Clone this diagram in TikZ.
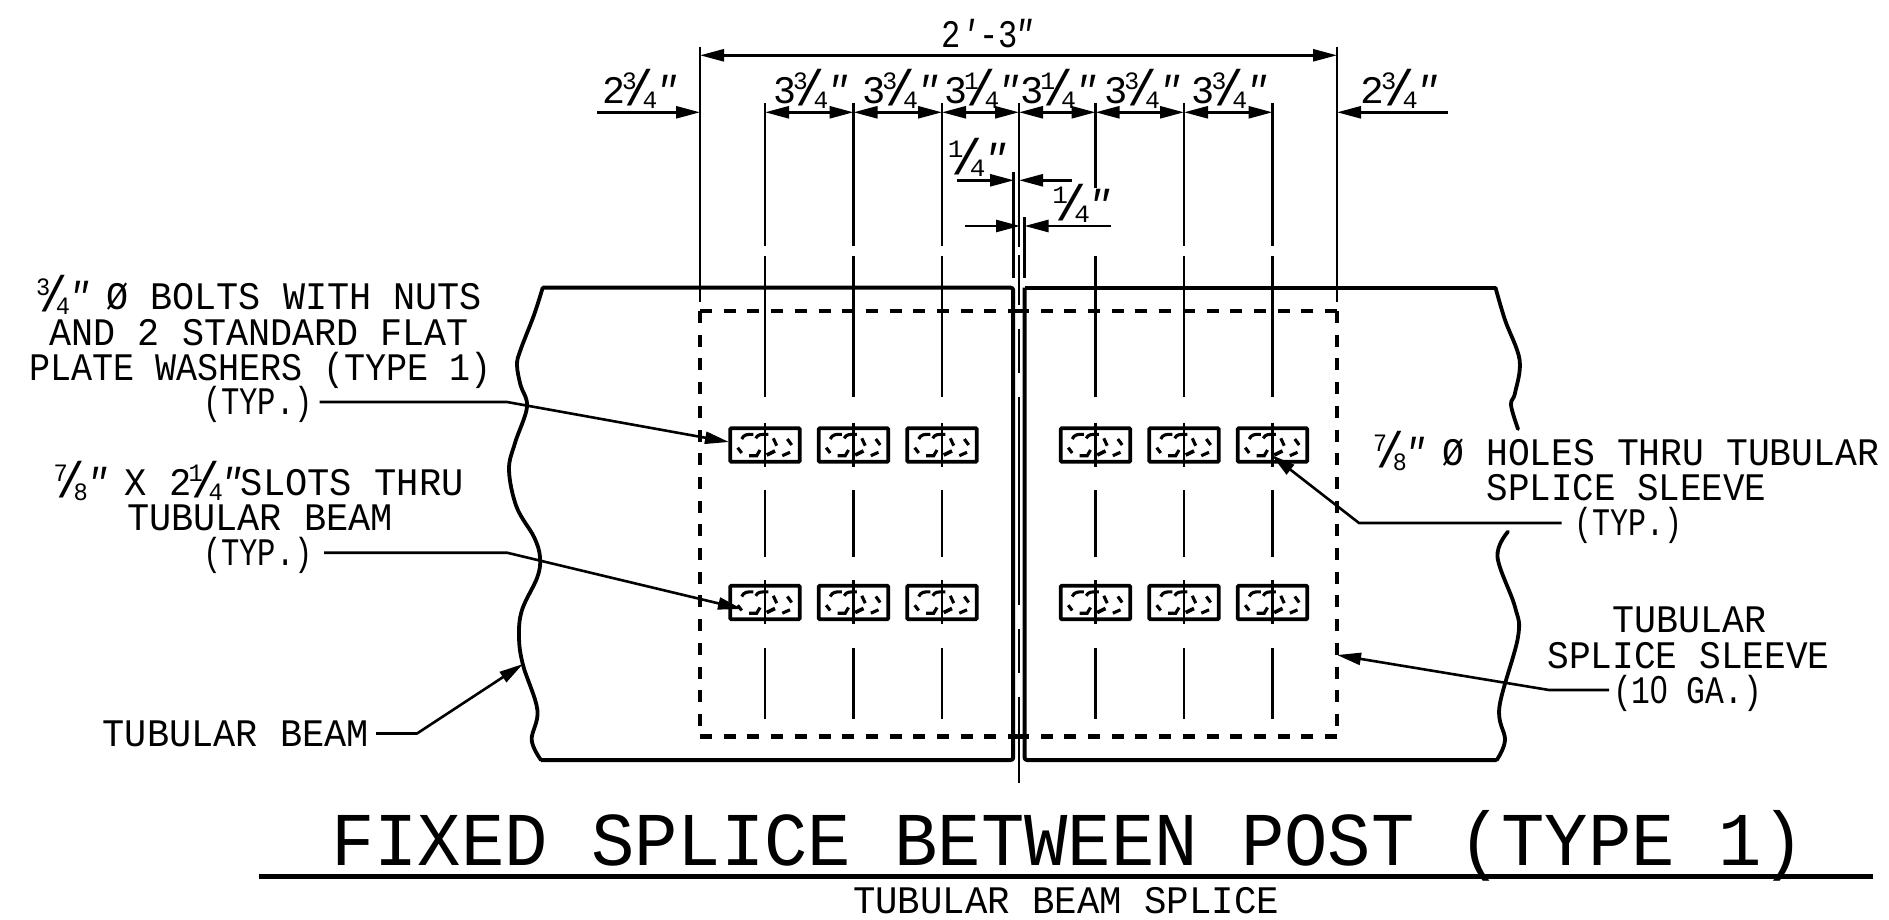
\documentclass[tikz,border=0pt]{standalone}
\usepackage{fontspec}
\usepackage{graphicx}
\setmainfont{Liberation Mono}
\newfontfamily\sanfam{Liberation Sans}
\usetikzlibrary{arrows.meta,calc}
\newcommand\fitw[2]{\resizebox{#1pt}{\height}{#2}}
\newcommand\frc[2]{\makebox[36pt][l]{\kern-3pt\rlap{\raisebox{14pt}{\fontsize{25}{25}\selectfont #1}}\kern3pt\rlap{\raisebox{-2pt}{\fontsize{50}{50}\selectfont /}}\kern18pt\rlap{\raisebox{-5pt}{\fontsize{25}{25}\selectfont #2}}}}
\newcommand\inch{\makebox[12pt][l]{\kern-5pt\itshape ″}}
\tikzset{
  lab/.style={anchor=base west,inner sep=0pt,outer sep=0pt,font=\fontsize{39}{39}\selectfont},
  ttl/.style={anchor=base west,inner sep=0pt,outer sep=0pt,font=\fontsize{76}{76}\selectfont},
  beam/.style={line width=4pt,line join=round,rounded corners=2.5pt},
  squig/.style={line width=3.8pt,line join=round,line cap=round},
  ext/.style={line width=2.3pt},
  dim/.style={line width=2.6pt,{Triangle[length=24pt,width=12pt]}-{Triangle[length=24pt,width=12pt]}},
  lead/.style={line width=2.6pt,line join=round,-{Triangle[length=24pt,width=12pt]}},
  dashbox/.style={line width=4.2pt,dash pattern=on 12pt off 11.7pt},
  holebox/.style={draw,line width=3.6pt,rounded corners=1pt,minimum width=69.5pt,minimum height=33.5pt,inner sep=0pt,outer sep=0pt},
  holedash/.style={line width=3.1pt,line cap=butt}
}
\begin{document}
\begin{tikzpicture}[x=1pt,y=-1pt]
\useasboundingbox (0,0) rectangle (1889,920);
% named positions
\foreach \n/\x in {a/700,b/765,c/853.5,d/942,e/1019,f/1095.5,g/1184,h/1272.5,i/1337}{
  \coordinate (top\n) at (\x,55.3);
  \coordinate (row\n) at (\x,112.3);
}
\coordinate (boxTL) at (700,311); \coordinate (boxBL) at (700,736.5);
\coordinate (boxTR) at (1337,311); \coordinate (boxBR) at (1337,736.5);
\coordinate (boxTC) at (1019,311); \coordinate (boxBC) at (1019,736.5);
% beams
\draw[beam] (542.7,287.7) -- (1013.2,287.7) -- (1013.2,760) -- (541,760);
\draw[beam] (1495.5,287.7) -- (1024.5,287.7);
\draw[beam] (1024.5,287.7) -- (1024.5,760) -- (1496.7,760);
\draw[squig] plot[smooth,tension=.6] coordinates {(542.7,287.7)(534,315)(520.5,350)(517,365)(520.5,385)(527,407)(515,443)(509,470)(516.6,507)(534,537)(540,557)(537.4,577)(522,610)(519,637)(523,665)(537.4,710)(531.7,740)(541,760)};
\draw[squig] plot[smooth,tension=.6] coordinates {(1495.5,287.7)(1505,320)(1519.6,360)(1515,393)(1511,405)(1518,429)};
\draw[squig] plot[smooth,tension=.6] coordinates {(1508,531.7)(1497.5,557)(1515,607)(1518,637)(1499.4,707)(1505,740)(1496.7,760)};
% dashed sleeve
\draw[dashbox] (boxTL) -- (boxTC);
\draw[dashbox] (boxTL) -- (boxBL);
\draw[dashbox] (boxBL) -- (boxBC);
\draw[dashbox] (boxTR) -- (boxTC);
\draw[dashbox] (boxTR) -- (boxBR);
\draw[dashbox] (boxBR) -- (boxBC);
% extension lines
\draw[ext] (700,47) -- (700,302);
\draw[ext] (1337,47) -- (1337,302);
\foreach \x in {765,853.5,942,1095.5,1184,1272.5}{
  \draw[ext] (\x,256) -- (\x,397);
  \draw[ext] (\x,490) -- (\x,557);
  \draw[ext] (\x,648) -- (\x,719);
}
\foreach \x in {765,853.5,942,1184,1272.5}{\draw[ext] (\x,103.5) -- (\x,246);}
\draw[ext] (1095.5,103.5) -- (1095.5,188);
% centre line and small gap extension lines
\draw[ext] (1018.8,103.5) -- (1018.8,246.5);
\draw[ext] (1018.8,255) -- (1018.8,305);
\draw[ext] (1018.8,329) -- (1018.8,373);
\draw[ext] (1018.8,397) -- (1018.8,605);
\draw[ext] (1018.8,629) -- (1018.8,673);
\draw[ext] (1018.8,697) -- (1018.8,783);
\draw[ext] (1013.5,172) -- (1013.5,278);
\draw[ext] (1024.5,217) -- (1024.5,278);
% bolt holes
\foreach \n/\x in {1/765,2/853.5,3/942,4/1095.5,5/1184,6/1272.5}{
 \foreach \m/\y in {u/445,l/602.5}{
  \node[holebox] (hole\n\m) at (\x,\y) {};
  \begin{scope}[shift={(\x,\y)}]
   \draw[holedash] (-23.3,-6) .. controls (-21,-10.7) and (-18,-10.7) .. (-11.7,-10.7);
   \draw[holedash] (-9.3,-6.7) .. controls (-7,-10.7) and (-5,-10.7) .. (3.3,-10.7);
   \draw[holedash] (8.3,-6.7) -- (11.7,0.7);
   \draw[holedash] (22.3,-6) -- (26.7,0);
   \draw[holedash] (-27.3,2.7) -- (-23.3,8);
   \draw[holedash] (-16,10.7) -- (-8.3,10.7) -- (-5,5);
   \draw[holedash,line width=3.6pt] (1.7,10) -- (10,6);
   \draw[holedash] (17.3,10.7) -- (25,7.3);
   \draw[ext] (0,-22.5) -- (0,21.5);
  \end{scope}
 }
}
% dimensions
\draw[dim] (topa) -- (topi);
\draw[dim] (rowb) -- (rowc);
\draw[dim] (rowc) -- (rowd);
\draw[dim] (rowd) -- (rowe);
\draw[dim] (rowe) -- (rowf);
\draw[dim] (rowf) -- (rowg);
\draw[dim] (rowg) -- (rowh);
\coordinate (o1) at (597,112.3); \coordinate (o2) at (1448,112.3);
\draw[lead] (o1) -- (rowa);
\draw[lead] (o2) -- (rowi);
\coordinate (u1) at (956.5,180.3); \coordinate (u1t) at (1014,180.3);
\coordinate (u2) at (1072,180.3);  \coordinate (u2t) at (1019,180.3);
\coordinate (w1) at (965,226);  \coordinate (w1t) at (1020,226);
\coordinate (w2) at (1110.6,226); \coordinate (w2t) at (1024.5,226);
\draw[lead] (u1) -- (u1t);
\draw[lead] (u2) -- (u2t);
\draw[lead] (w1) -- (w1t);
\draw[lead] (w2) -- (w2t);
% dimension labels
\node[lab] (d27) at (941,48) {\fitw{87}{2{\itshape ′}-3\inch}};
\node[lab] (dl) at (602,104) {\fitw{70}{2\frc{3}{4}\inch}};
\node[lab] (dr) at (1360.5,104) {\fitw{72.5}{2\frc{3}{4}\inch}};
\node[lab] (d1) at (773,104) {\fitw{70}{3\frc{3}{4}\inch}};
\node[lab] (d2) at (862,104) {\fitw{71}{3\frc{3}{4}\inch}};
\node[lab] (d3) at (944,104) {\fitw{70}{3\frc{1}{4}\inch}};
\node[lab] (d4) at (1020,104) {\fitw{71}{3\frc{1}{4}\inch}};
\node[lab] (d5) at (1104,104) {\fitw{71}{3\frc{3}{4}\inch}};
\node[lab] (d6) at (1191.5,104) {\fitw{70.5}{3\frc{3}{4}\inch}};
\node[lab] (q1) at (951,172) {\fitw{50}{\frc{1}{4}\inch}};
\node[lab] (q2) at (1055.5,218) {\fitw{50}{\frc{1}{4}\inch}};
% callouts
\node[lab] (t1a) at (39,309) {\fitw{443}{\frc{3}{4}\inch\ Ø BOLTS WITH NUTS}};
\node[lab] (t1b) at (49.8,345) {\fitw{419}{AND 2 STANDARD FLAT}};
\node[lab] (t1c) at (29,380) {\fitw{463}{PLATE WASHERS (TYPE 1)}};
\node[lab] (t1d) at (203,414) {\fitw{110}{(TYP.)}};
\node[lab] (t2a) at (56.6,495) {\fitw{407}{\frc{7}{8}\inch\ X 2\frc{1}{4}\inch\kern4pt SLOTS THRU}};
\node[lab] (t2b) at (127,530.6) {\fitw{266}{TUBULAR BEAM}};
\node[lab] (t2c) at (203,565) {\fitw{110}{(TYP.)}};
\node[lab] (t3) at (102.7,746.7) {\fitw{266}{TUBULAR BEAM}};
\node[lab] (t4a) at (1376,465) {\fitw{503}{\frc{7}{8}\inch\ Ø HOLES THRU TUBULAR}};
\node[lab] (t4b) at (1486.5,500.7) {\fitw{279.5}{SPLICE SLEEVE}};
\node[lab] (t4c) at (1574,535) {\fitw{108}{(TYP.)}};
\node[lab] (t5a) at (1612,632) {\fitw{154}{TUBULAR}};
\node[lab] (t5b) at (1547.5,668) {\fitw{282}{SPLICE SLEEVE}};
\node[lab] (t5c) at (1613,703) {\fitw{149}{(1{\sanfam 0} GA.)}};
\coordinate (k1) at (507,402);
\coordinate (s1) at (319.5,402);
\coordinate (k2) at (507,552.7);
\coordinate (s2) at (324,552.7);
\coordinate (k3) at (417,733.5);
\coordinate (s3) at (376,733.5);
\coordinate (k4) at (1359,523);
\coordinate (s4) at (1561.6,523);
\coordinate (k5) at (1549,690);
\coordinate (s5) at (1609,690);
\coordinate (p1) at (729,442);
\coordinate (p2) at (742,609);
\coordinate (p3) at (523,664);
\coordinate (p4) at (1271.5,455);
\coordinate (p5) at (1337,655);
\draw[lead] (s1) -- (k1) -- (p1);
\draw[lead] (s2) -- (k2) -- (p2);
\draw[lead] (s3) -- (k3) -- (p3);
\draw[lead] (s4) -- (k4) -- (p4);
\draw[lead] (s5) -- (k5) -- (p5);
% title
\node[ttl] (title) at (331,865) {\fitw{1474}{FIXED SPLICE BETWEEN POST (TYPE 1)}};
\coordinate (ula) at (258.7,876.7); \coordinate (ulb) at (1873,876.7);
\draw[line width=5pt] (ula) -- (ulb);
\node[lab] (sub) at (853,913) {\fitw{426}{TUBULAR BEAM SPLICE}};
\end{tikzpicture}
\end{document}
